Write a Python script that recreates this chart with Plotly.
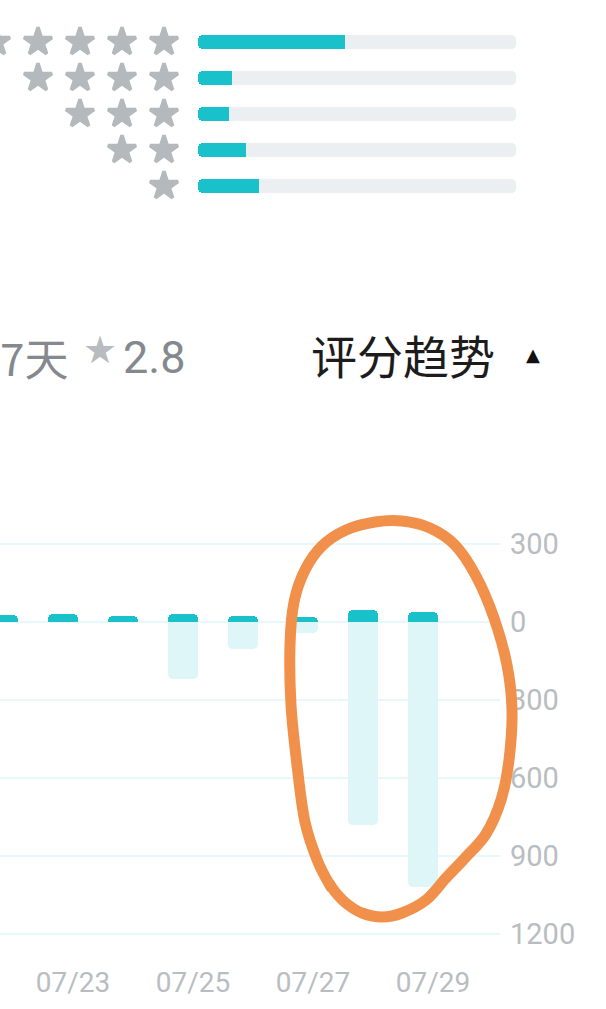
import plotly.graph_objects as go

# ---------------- data ----------------
STAR_LEVELS = [5, 4, 3, 2, 1]
STAR_SHARE = [46.3, 10.7, 9.8, 15.2, 19.2]          # % of ratings per star level

DATES = ["07/22", "07/23", "07/24", "07/25", "07/26", "07/27", "07/28", "07/29"]
POSITIVE = [27, 30, 22, 30, 23, 20, 45, 38]
NEGATIVE = [0, 0, 0, -220, -105, -42, -780, -1020]
SHOWN_DATES = ["07/23", "07/25", "07/27", "07/29"]
Y_TICKS = [300, 0, -300, -600, -900, -1200]
Y_TICK_TEXT = ["300", "0", "300", "600", "900", "1200"]

PERIOD_LABEL = "7天"
AVG_SCORE = "2.8"
TREND_TITLE = "评分趋势"

# ---------------- style ----------------
W, H = 606, 1009
TEAL = "#19c2cb"
TRACK = "#eceff1"
LIGHT = "#dff6f8"
STAR_GREY = "#b4b9bd"
TICK_GREY = "#b9bdc1"
GRID = "#e8f8fa"
FONT = "Roboto, 'Noto Sans CJK SC', sans-serif"
CJK = "'Noto Sans CJK SC', Roboto, sans-serif"


def px(x):
    return x / W


def py(y):
    return 1 - y / H


fig = go.Figure()

# ---- rating distribution (top) ----
UNIT_PX = 318 / 100.0
CAP = 10 / UNIT_PX       # short negative stub gives the rounded left end
n = len(STAR_LEVELS)
for color, vals in ((TRACK, [100] * n), (TEAL, STAR_SHARE)):
    fig.add_trace(go.Bar(
        y=STAR_LEVELS, x=[v - CAP for v in vals], orientation="h", width=0.39,
        marker=dict(color=color, cornerradius=5, line_width=0),
        xaxis="x2", yaxis="y2", hoverinfo="skip"))
    fig.add_trace(go.Bar(
        y=STAR_LEVELS, x=[-CAP] * n, orientation="h", width=0.39,
        marker=dict(color=color, cornerradius=5, line_width=0),
        xaxis="x2", yaxis="y2", hoverinfo="skip"))

# stars (one per level unit, laid out leftwards from the bars)
star_x, star_y = [], []
for lvl in STAR_LEVELS:
    for k in range(lvl):
        star_x.append(-CAP - (34 + 42 * k) / UNIT_PX)
        star_y.append(lvl)
fig.add_trace(go.Scatter(
    x=star_x, y=star_y, mode="markers", xaxis="x2", yaxis="y2",
    marker=dict(symbol="star", size=21, color=STAR_GREY,
                line=dict(width=3.5, color=STAR_GREY)),
    hoverinfo="skip"))

# ---- trend chart (bottom) ----
fig.add_trace(go.Bar(
    x=DATES, y=NEGATIVE, width=0.5,
    marker=dict(color=LIGHT, cornerradius=5, line_width=0), hoverinfo="skip"))
fig.add_trace(go.Bar(
    x=DATES, y=POSITIVE, width=0.5,
    marker=dict(color=TEAL, cornerradius=5, line_width=0), hoverinfo="skip"))

y_top_px, y_bot_px, zero_px = 520, 950, 622
per_px = 300 / 78.0
y_range = [-(y_bot_px - zero_px) * per_px, (zero_px - y_top_px) * per_px]

fig.update_layout(
    width=W, height=H, margin=dict(l=0, r=0, t=0, b=0),
    paper_bgcolor="white", plot_bgcolor="rgba(0,0,0,0)",
    showlegend=False, barmode="overlay", bargap=0,
    font=dict(family=FONT),
    xaxis=dict(domain=[0, px(500)], type="category", categoryorder="array",
               categoryarray=DATES, range=[-3 / 60, 497 / 60],
               tickvals=SHOWN_DATES, ticktext=SHOWN_DATES, ticks="",
               showgrid=False, zeroline=False, showline=False,
               tickfont=dict(size=28, color=TICK_GREY, family=FONT),
               ticklabelshift=10, ticklabelstandoff=13, fixedrange=True),
    yaxis=dict(domain=[py(y_bot_px), py(y_top_px)], range=y_range, side="right",
               tickvals=Y_TICKS, ticktext=Y_TICK_TEXT, ticks="",
               showgrid=True, gridcolor=GRID, gridwidth=2, zeroline=False,
               showline=False, tickfont=dict(size=29, color=TICK_GREY, family=FONT),
               ticklabelstandoff=9),
    xaxis2=dict(domain=[0, 1],
                range=[-CAP - 198 / UNIT_PX, -CAP + (W - 198) / UNIT_PX],
                visible=False, anchor="y2"),
    yaxis2=dict(domain=[py(230), 1], range=[1 - 44 / 36, 5 + 42 / 36],
                visible=False, anchor="x2"),
)

# ---- header texts ----
fig.add_annotation(x=px(70), y=py(357), xref="paper", yref="paper", text=PERIOD_LABEL,
                   showarrow=False, xanchor="right", yanchor="middle",
                   font=dict(size=44, color="#85898e", family=CJK))
fig.add_annotation(x=px(100), y=py(350), xref="paper", yref="paper", text="★",
                   showarrow=False, xanchor="center", yanchor="middle",
                   font=dict(size=38, color="#b8bcc0", family="DejaVu Sans"))
fig.add_annotation(x=px(121), y=py(357), xref="paper", yref="paper", text=AVG_SCORE,
                   showarrow=False, xanchor="left", yanchor="middle",
                   font=dict(size=45, color="#85898e", family=FONT))
fig.add_annotation(x=px(309), y=py(354), xref="paper", yref="paper", text=TREND_TITLE,
                   showarrow=False, xanchor="left", yanchor="middle",
                   font=dict(size=46, color="#1c1c1c", family=CJK))
fig.add_annotation(x=px(533), y=py(355), xref="paper", yref="paper", text="▲",
                   showarrow=False, xanchor="center", yanchor="middle",
                   font=dict(size=18, color="#111111", family="DejaVu Sans"))

# ---- hand-drawn orange highlight (smooth Catmull-Rom curve) ----
loop = [(332, 889), (318, 862), (305, 822), (297, 765), (291, 705), (290, 645),
        (294, 602), (305, 570), (322, 546), (346, 530), (375, 522), (402, 521),
        (430, 528), (455, 545), (476, 576), (494, 618), (507, 665), (512, 710),
        (509, 760), (501, 800), (486, 834), (465, 858), (446, 878), (426, 900),
        (402, 913), (382, 917), (362, 913), (347, 904), (336, 893), (329, 883)]


def smooth_path(pts):
    P = [pts[0]] + pts + [pts[-1]]
    d = f"M {px(pts[0][0]):.5f},{py(pts[0][1]):.5f}"
    for i in range(1, len(P) - 2):
        p0, p1, p2, p3 = P[i - 1], P[i], P[i + 1], P[i + 2]
        c1 = (p1[0] + (p2[0] - p0[0]) / 6, p1[1] + (p2[1] - p0[1]) / 6)
        c2 = (p2[0] - (p3[0] - p1[0]) / 6, p2[1] - (p3[1] - p1[1]) / 6)
        d += (f" C {px(c1[0]):.5f},{py(c1[1]):.5f} {px(c2[0]):.5f},{py(c2[1]):.5f}"
              f" {px(p2[0]):.5f},{py(p2[1]):.5f}")
    return d


fig.add_shape(type="path", path=smooth_path(loop), xref="paper", yref="paper",
              line=dict(color="#f0904a", width=11), layer="above")

fig.write_html("out.html", config={"displayModeBar": False},
               post_script="document.body.style.margin='0';document.body.style.overflow='hidden';")
